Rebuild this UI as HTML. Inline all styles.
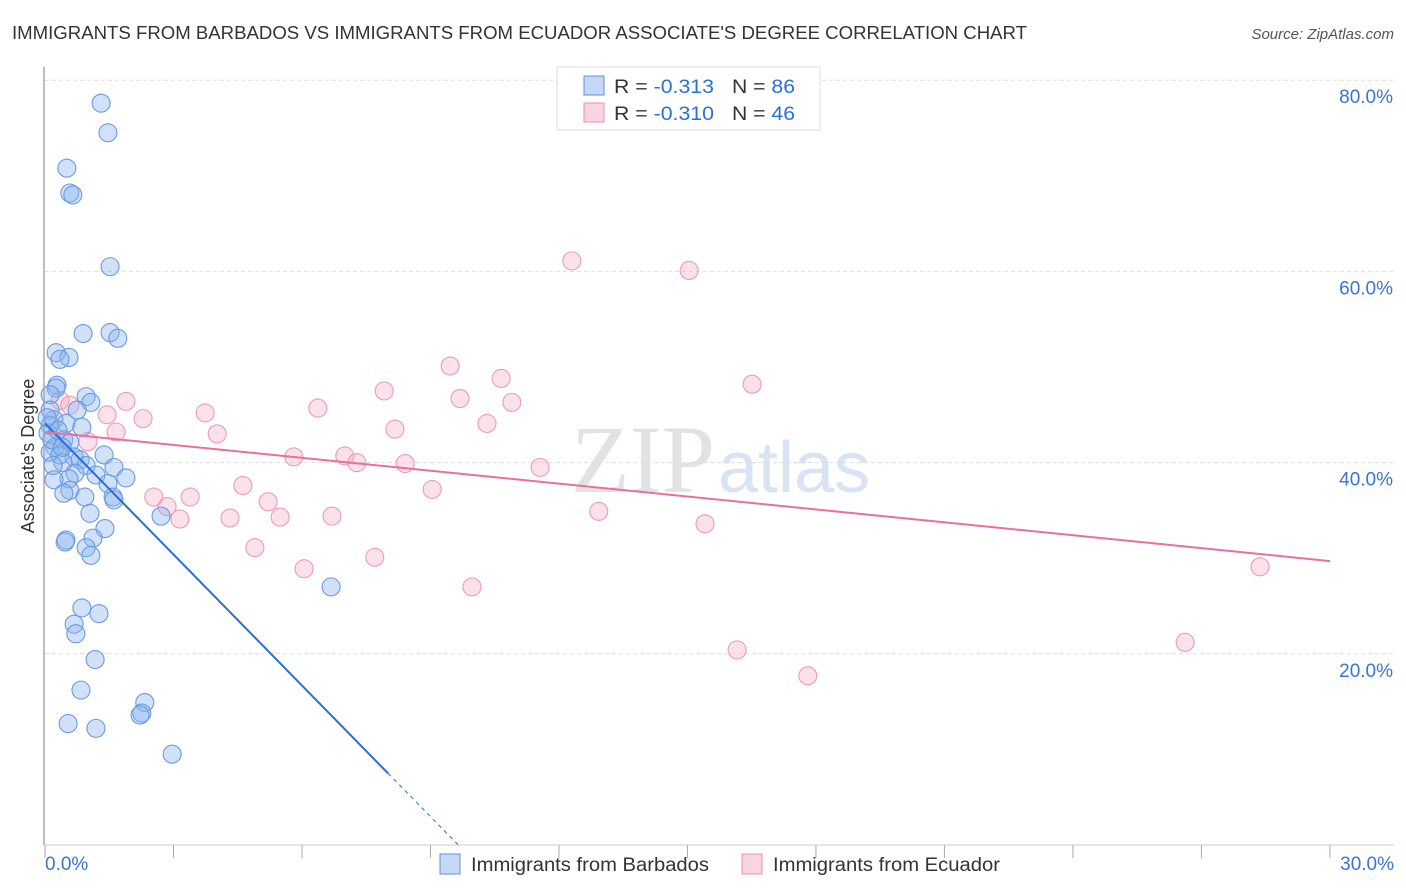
<!DOCTYPE html>
<html><head><meta charset="utf-8"><style>
body{margin:0;background:#fff;font-family:"Liberation Sans",sans-serif;}
#wrap{position:relative;width:1406px;height:892px;overflow:hidden;}
</style></head><body>
<div id="wrap">
<svg id="svg" width="1406" height="892" xmlns="http://www.w3.org/2000/svg">
<text x="12" y="39" font-size="18" fill="#333" textLength="1015" lengthAdjust="spacingAndGlyphs">IMMIGRANTS FROM BARBADOS VS IMMIGRANTS FROM ECUADOR ASSOCIATE'S DEGREE CORRELATION CHART</text>
<text x="1394" y="39" font-size="15" fill="#555" font-style="italic" text-anchor="end">Source: ZipAtlas.com</text>
<text x="715" y="492" font-size="96" fill="#e0e2e6" text-anchor="end" font-family="Liberation Serif, serif">ZIP</text>
<text x="718" y="492" font-size="72" fill="#d8e4f4">atlas</text>
<g id="grid"></g>
<g id="axes"></g>
<g id="pts"></g>
<g id="lines"></g>
<text transform="translate(34,456) rotate(-90)" font-size="18" fill="#333" text-anchor="middle">Associate's Degree</text>
<g>
<rect x="557" y="67" width="263" height="63" fill="#fff" stroke="#ddd"/>
<rect x="584" y="76" width="20" height="19" fill="rgba(140,180,240,0.5)" stroke="#5b8fe0"/>
<rect x="584" y="103" width="20" height="19" fill="rgba(245,170,195,0.5)" stroke="#e890ad"/>
<text x="614" y="93" font-size="19" fill="#333"><tspan textLength="100" lengthAdjust="spacingAndGlyphs">R = <tspan fill="#2a6fd6">-0.313</tspan></tspan><tspan x="732" textLength="63" lengthAdjust="spacingAndGlyphs">N = <tspan fill="#2a6fd6">86</tspan></tspan></text>
<text x="614" y="120" font-size="19" fill="#333"><tspan textLength="100" lengthAdjust="spacingAndGlyphs">R = <tspan fill="#2a6fd6">-0.310</tspan></tspan><tspan x="732" textLength="63" lengthAdjust="spacingAndGlyphs">N = <tspan fill="#2a6fd6">46</tspan></tspan></text>
</g>
<g>
<rect x="440" y="854" width="20" height="20" fill="rgba(140,180,240,0.5)" stroke="#5b8fe0"/>
<text x="471" y="871" font-size="19" fill="#333" textLength="238" lengthAdjust="spacingAndGlyphs">Immigrants from Barbados</text>
<rect x="742" y="854" width="20" height="20" fill="rgba(245,170,195,0.5)" stroke="#e890ad"/>
<text x="773" y="871" font-size="19" fill="#333" textLength="227" lengthAdjust="spacingAndGlyphs">Immigrants from Ecuador</text>
</g>
</svg>
</div>
<script>
const blueX=[1.31,1.47,0.51,0.58,0.65,1.52,0.89,1.52,1.70,0.26,0.56,0.35,0.28,0.26,0.96,1.07,0.12,0.75,0.12,0.21,0.49,0.86,0.12,0.44,0.58,0.23,0.12,0.35,0.68,1.38,0.82,0.96,0.42,1.61,1.19,1.89,0.70,0.56,0.21,1.47,0.58,0.44,1.59,0.93,1.61,1.05,2.71,1.40,0.49,0.47,1.12,0.96,1.07,6.68,0.86,1.26,0.68,0.72,1.17,0.84,2.33,2.26,2.22,0.54,1.19,2.97,0.07,0.16,0.30,0.05,0.40,0.19];
const blueY=[77.6,74.5,70.8,68.2,68.0,60.5,53.5,53.6,53.0,51.5,51.0,50.8,48.1,47.8,46.9,46.3,47.1,45.5,45.5,44.5,44.1,43.7,43.9,42.4,42.1,41.6,41.1,40.8,40.6,40.8,40.3,39.7,40.0,39.5,38.7,38.4,38.9,38.3,38.2,37.8,37.1,36.8,36.4,36.4,36.1,34.7,34.4,33.1,31.9,31.7,32.1,31.1,30.3,27.0,24.8,24.2,23.1,22.1,19.4,16.2,14.9,13.8,13.6,12.7,12.2,9.5,43.1,42.4,43.4,44.7,41.6,39.7];
const pinkX=[12.30,15.04,9.46,16.51,10.65,7.92,1.89,9.69,10.90,6.37,3.74,1.45,2.29,8.17,10.32,1.66,4.02,1.00,0.35,0.58,5.81,7.00,7.28,8.41,11.56,4.62,9.04,2.54,3.39,5.21,2.85,12.93,3.15,4.32,5.49,6.70,15.41,4.90,7.70,6.05,9.97,28.37,26.62,16.16,17.81];
const pinkY=[61.1,60.1,50.1,48.2,48.8,47.5,46.4,46.7,46.3,45.7,45.2,45.0,44.6,43.5,44.1,43.2,43.0,42.2,46.5,46.0,40.6,40.7,40.0,39.9,39.5,37.6,37.2,36.4,36.4,35.9,35.4,34.9,34.1,34.2,34.3,34.4,33.6,31.1,30.1,28.9,27.0,29.1,21.2,20.4,17.7];
const yTicks=[20,40,60,80];
const yTickLabels=["20.0%","40.0%","60.0%","80.0%"];
const xTickLabels=["0.0%","30.0%"];
const blueTrend=[44.1,-4.57];
const pinkTrend=[43.2,-0.45];
const NS="http://www.w3.org/2000/svg";
const sx=v=>45+v*42.83, sy=v=>845-v*9.56;
function mk(tag,attrs,parent){const e=document.createElementNS(NS,tag);for(const k in attrs)e.setAttribute(k,attrs[k]);parent.appendChild(e);return e;}
const grid=document.getElementById('grid'),axes=document.getElementById('axes'),pts=document.getElementById('pts'),lines=document.getElementById('lines');
yTicks.forEach((t,i)=>{
 const l=mk('line',{x1:45,x2:1394,y1:sy(t),y2:sy(t),stroke:'#ddd','stroke-dasharray':'4,3'},grid);
 
 
 const tx=mk('text',{x:1393,y:sy(t)+23,'font-size':19,fill:'#3a74d4','text-anchor':'end'},axes);
 tx.textContent=yTickLabels[i];
 
 
});
const ax=mk('line',{x1:44,x2:44,y1:67,y2:845,stroke:'#aaa','stroke-width':1.5},axes);


const bx=mk('line',{x1:44,x2:1394,y1:845,y2:845,stroke:'#ccc'},axes);


for(let i=0;i<=10;i++){const t=mk('line',{x1:sx(i*3),x2:sx(i*3),y1:845,y2:858,stroke:'#aaa'},axes);
 
 }
[[0,'start',45],[30,'end',1394]].forEach((d,i)=>{const t=mk('text',{x:d[2],y:870,'font-size':19,fill:'#3a74d4','text-anchor':d[1]},axes);t.textContent=xTickLabels[i];
 
 });
function dots(X,Y,fill,stroke,name){X.forEach((x,i)=>{const c=mk('circle',{cx:sx(x),cy:sy(Y[i]),r:9,fill:fill,stroke:stroke,'stroke-width':1.1},pts);
 
 });}
dots(pinkX,pinkY,'rgba(245,170,195,0.35)','#eb9bb6','point-ecuador');
dots(blueX,blueY,'rgba(140,180,240,0.4)','#6a9ae2','point-barbados');
const xEnd=8.01,xZero=-blueTrend[0]/blueTrend[1];
const b1=mk('line',{x1:sx(0),y1:sy(blueTrend[0]),x2:sx(xEnd),y2:sy(blueTrend[0]+blueTrend[1]*xEnd),stroke:'#2a6fd6','stroke-width':2},lines);


const b2=mk('line',{x1:sx(xEnd),y1:sy(blueTrend[0]+blueTrend[1]*xEnd),x2:sx(xZero),y2:sy(0),stroke:'#2a6fd6','stroke-width':1,'stroke-dasharray':'4,4'},lines);


const p1=mk('line',{x1:sx(0),y1:sy(pinkTrend[0]),x2:sx(30),y2:sy(pinkTrend[0]+pinkTrend[1]*30),stroke:'#e8709a','stroke-width':2},lines);


</script>
</body></html>
